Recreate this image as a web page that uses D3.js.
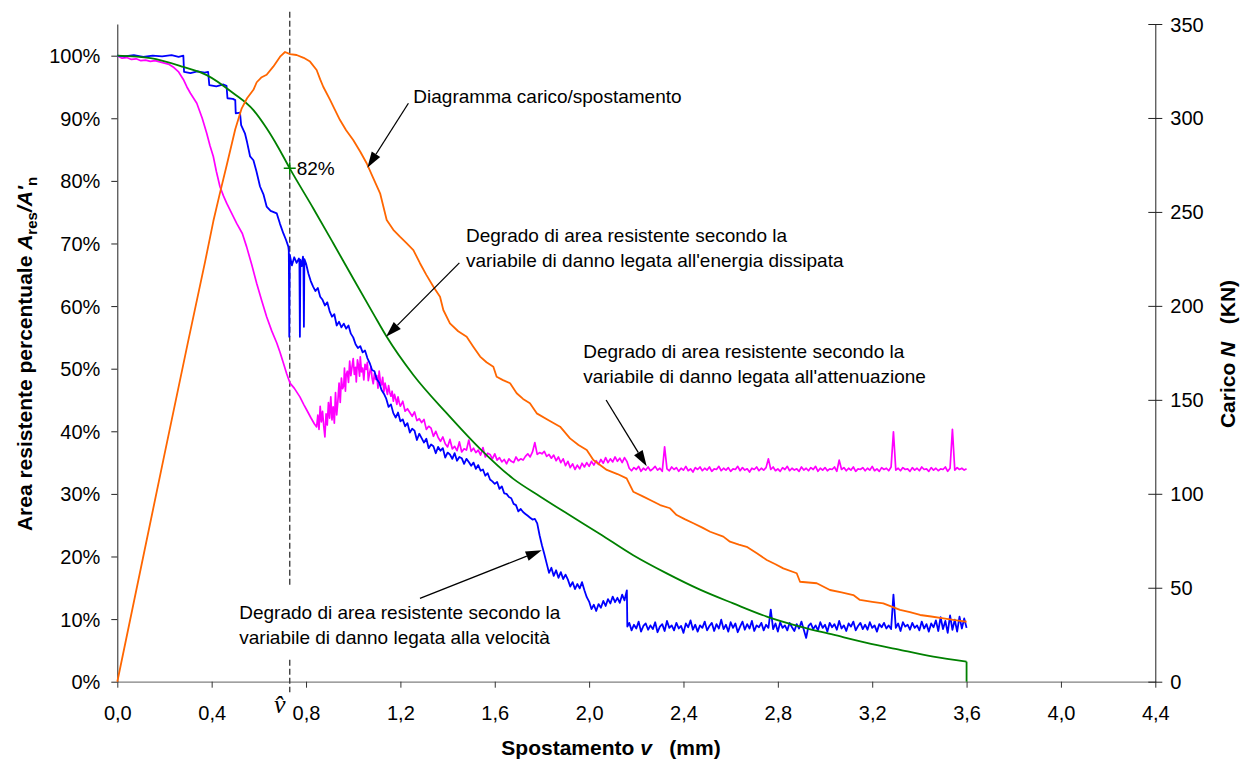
<!DOCTYPE html>
<html><head><meta charset="utf-8">
<script src="https://cdn.jsdelivr.net/npm/d3@7"></script>
<style>
body{margin:0;background:#fff}
svg text{font-family:"Liberation Sans",Arial,sans-serif;fill:#000}
.pre{white-space:pre}
</style></head><body>
<svg id="c" width="1240" height="760"></svg>
<script>
// ---------- DATA ----------
const xTicks = [0,0.4,0.8,1.2,1.6,2.0,2.4,2.8,3.2,3.6,4.0,4.4];
const leftTicks = [0,10,20,30,40,50,60,70,80,90,100];
const rightTicks = [0,50,100,150,200,250,300,350];
const vHat = 0.731;
const vHatValue = 82;

// Load / displacement (kN, right axis)
const loadCurve = [[0,0],[0.1,60.5],[0.2,121],[0.3,181],[0.372,223.4],[0.407,245],[0.435,260],[0.464,275],[0.5,294],[0.527,305],[0.55,310.5],[0.577,315],[0.591,319],[0.61,321.5],[0.633,323],[0.661,327.3],[0.69,332.6],[0.711,335.1],[0.732,334.0],[0.76,333.5],[0.79,332],[0.817,330],[0.845,325.5],[0.86,320.5],[0.873,316.6],[0.902,309.6],[0.92,305],[0.944,298.9],[0.97,293.5],[1.0,288.3],[1.03,282],[1.057,275.9],[1.085,268],[1.114,259.9],[1.142,245.7],[1.17,240.5],[1.198,236.8],[1.225,233.5],[1.255,229.7],[1.283,222.7],[1.31,216.5],[1.34,210.2],[1.368,204.9],[1.382,197.8],[1.41,190.7],[1.445,186.5],[1.481,183.6],[1.509,178.3],[1.538,173.0],[1.565,170],[1.594,167.6],[1.608,162.3],[1.635,160.5],[1.665,158.8],[1.693,153.5],[1.72,150.5],[1.749,148.2],[1.778,142.8],[1.83,139],[1.877,135.7],[1.919,129.5],[1.955,126],[1.99,123.3],[2.018,118.0],[2.045,115.5],[2.075,112.7],[2.12,110.5],[2.159,108.2],[2.187,101.1],[2.23,98.5],[2.265,96.3],[2.301,94.0],[2.343,92.3],[2.371,88.7],[2.405,86.5],[2.442,84.3],[2.48,82],[2.513,79.8],[2.569,77.2],[2.597,74.5],[2.635,73],[2.668,71.8],[2.711,68.3],[2.753,64.8],[2.79,62.5],[2.823,60.3],[2.88,57.7],[2.894,53.2],[2.965,52.4],[3.021,48.8],[3.07,47.5],[3.12,46.1],[3.148,43.5],[3.2,42.5],[3.247,41.7],[3.318,38.2],[3.36,37],[3.403,35.5],[3.45,34.7],[3.502,33.7],[3.55,32.8],[3.6,31.9]];

// Energy-based damage (%, left axis)
const energyCurve = [[0,100],[0.141,99.6],[0.28,98.2],[0.379,96.9],[0.492,94.0],[0.577,91.3],[0.633,88.4],[0.68,85.5],[0.731,82.0],[0.831,75.6],[0.916,70.0],[1.0,64.4],[1.085,58.8],[1.142,55.1],[1.255,49.0],[1.396,42.9],[1.538,37.2],[1.679,32.4],[1.792,29.6],[1.905,26.9],[2.046,23.6],[2.187,20.2],[2.329,17.3],[2.47,14.7],[2.611,12.5],[2.753,10.4],[2.894,8.8],[3.035,7.5],[3.177,6.2],[3.318,5.1],[3.459,4.0],[3.6,3.2],[3.6,0]];

// Velocity-based damage (%, left axis)
const velocityCurve = [[0,100],[0.03,99.9],[0.07,100.1],[0.11,99.8],[0.15,100],[0.19,99.9],[0.23,100.1],[0.26,99.8],[0.28,100],[0.283,97.4],[0.31,97.2],[0.34,97.5],[0.37,97.3],[0.385,97.4],[0.39,95.3],[0.42,95.1],[0.45,95.4],[0.463,95.2],[0.467,93.2],[0.49,93.1],[0.5,92.9],[0.502,90.8],[0.52,90.9],[0.525,88.9],[0.541,87.6],[0.55,86.2],[0.563,83.9],[0.577,83.3],[0.59,81.5],[0.605,79.1],[0.62,77.8],[0.633,75.9],[0.65,75.2],[0.676,74.8],[0.69,73.1],[0.704,71.6],[0.715,70.6],[0.725,69.5],[0.727,68.8],[0.729,55.1],[0.731,68.2],[0.74,66.5],[0.75,67.8],[0.76,66.9],[0.77,67.6],[0.772,67.0],[0.774,55.1],[0.776,67.4],[0.782,66.4],[0.787,67.9],[0.789,67.2],[0.791,56.7],[0.793,67.5],[0.80,66.8],[0.81,65.2],[0.82,64.0],[0.83,63.1],[0.84,62.4],[0.85,62.9],[0.86,61.5],[0.87,61.0],[0.88,60.1],[0.89,60.6],[0.90,59.2],[0.91,58.3],[0.92,58.7],[0.93,56.9],[0.94,57.5],[0.95,56.6],[0.96,57.2],[0.97,56.4],[0.98,56.9],[0.99,55.6],[1.00,55.0],[1.01,53.9],[1.02,53.3],[1.03,53.6],[1.04,52.6],[1.05,52.9],[1.06,51.7],[1.07,50.9],[1.08,49.8],[1.09,49.6],[1.10,48.3],[1.11,47.8],[1.12,46.6],[1.13,46.0],[1.14,45.2],[1.15,43.9],[1.16,44.3],[1.17,42.9],[1.18,42.2],[1.19,43.0],[1.20,41.6],[1.21,41.9],[1.22,40.8],[1.23,41.3],[1.24,39.8],[1.25,40.4],[1.26,40.1],[1.27,38.6],[1.28,39.6],[1.29,38.9],[1.30,38.2],[1.31,38.8],[1.32,37.3],[1.33,37.9],[1.34,37.6],[1.35,36.5],[1.36,37.5],[1.37,36.9],[1.38,37.3],[1.39,35.8],[1.40,36.6],[1.41,36.3],[1.42,35.6],[1.43,36.5],[1.44,35.3],[1.45,35.9],[1.46,35.7],[1.47,34.8],[1.48,35.6],[1.49,35.1],[1.50,34.5],[1.51,35.0],[1.52,34.0],[1.53,34.6],[1.54,33.7],[1.55,33.9],[1.56,32.9],[1.57,33.3],[1.58,32.3],[1.59,32.0],[1.60,31.6],[1.61,31.9],[1.62,30.8],[1.63,31.2],[1.64,30.1],[1.65,30.0],[1.66,29.5],[1.67,29.3],[1.68,28.4],[1.69,28.2],[1.70,27.2],[1.71,27.6],[1.72,27.1],[1.73,26.8],[1.74,26.5],[1.75,26.2],[1.76,25.9],[1.77,26.0],[1.78,25.3],[1.79,23.4],[1.80,21.8],[1.81,20.4],[1.82,18.9],[1.83,17.4],[1.84,18.2],[1.85,16.9],[1.86,17.8],[1.87,16.6],[1.88,17.5],[1.89,16.4],[1.90,17.1],[1.91,16.3],[1.92,15.2],[1.93,15.9],[1.94,14.8],[1.95,15.6],[1.96,14.9],[1.97,15.9],[1.98,14.6],[1.99,13.5],[2.00,12.8],[2.01,11.6],[2.02,12.3],[2.03,11.3],[2.04,12.4],[2.05,11.8],[2.06,12.9],[2.07,12.1],[2.08,13.2],[2.09,12.5],[2.10,13.6],[2.11,12.7],[2.12,13.4],[2.13,12.6],[2.14,13.9],[2.15,13.0],[2.16,14.6],[2.162,8.8]];
const velocityTailStart = 2.17, velocityTailStep = 0.01;
const velocityTail = [
9.4,8.2,9.1,8.5,9.6,8.0,8.9,9.3,8.3,9.0,
8.4,9.5,7.9,8.8,9.2,8.1,9.7,8.6,9.0,8.2,
9.4,8.5,8.9,7.8,9.3,8.7,9.8,8.3,9.1,8.0,
9.0,8.6,9.6,8.2,8.9,9.4,8.1,9.2,8.5,9.9,
8.4,9.1,8.0,9.5,8.6,9.3,7.9,8.8,9.6,8.3,
9.2,8.5,9.7,8.1,9.0,8.7,9.4,8.2,9.1,8.6,
11.5,8.4,9.3,8.0,9.5,8.6,9.0,8.2,9.4,8.7,
8.1,9.2,8.5,9.6,8.3,7.0,8.9,9.3,8.4,9.0,
8.2,9.5,8.6,9.1,8.0,9.4,8.7,9.2,8.3,9.7,
8.5,9.0,8.1,9.3,8.8,9.6,8.2,8.9,9.4,8.4,
9.1,8.3,9.5,8.6,9.0,8.0,9.2,8.7,9.4,8.5,
9.0,8.4,13.9,8.6,9.3,8.1,9.5,8.8,9.1,8.3,
9.4,8.6,9.0,8.2,9.6,8.5,9.2,8.0,9.3,8.7,
9.8,8.1,10.3,8.4,9.7,7.8,10.6,8.3,9.9,8.0,
10.4,8.5,10.1,8.6];

// Attenuation-based damage (%, left axis)
const attenuationCurve = [[0,100],[0.02,99.6],[0.04,99.7],[0.06,99.4],[0.08,99.5],[0.10,99.2],[0.12,99.3],[0.14,99.1],[0.16,99.2],[0.18,99.0],[0.20,98.8],[0.22,98.6],[0.24,98.1],[0.26,97.4],[0.28,96.2],[0.295,95.0],[0.31,94.0],[0.337,92.4],[0.36,90.0],[0.379,87.6],[0.393,85.6],[0.407,83.9],[0.42,81.5],[0.435,79.1],[0.45,77.6],[0.464,76.4],[0.485,74.8],[0.506,73.2],[0.53,71.6],[0.548,69.5],[0.57,66.6],[0.591,63.6],[0.612,60.9],[0.633,58.3],[0.655,56.0],[0.676,54.1],[0.69,52.6],[0.704,50.9],[0.718,49.2],[0.732,47.7],[0.75,46.9],[0.774,45.5],[0.79,44.3],[0.803,43.4],[0.82,42.2],[0.835,41.2],[0.845,40.7],
[0.85,42.6],[0.855,40.3],[0.86,44.0],[0.865,41.5],[0.87,43.2],[0.875,40.9],[0.88,39.1],[0.885,42.8],[0.89,41.0],[0.895,44.6],[0.90,42.1],[0.905,45.5],[0.91,41.8],[0.915,43.9],[0.92,41.3],[0.925,46.2],[0.93,42.6],[0.935,44.8],
[0.94,47.7],[0.945,44.6],[0.95,48.5],[0.955,46.8],[0.96,47.3],[0.963,50.1],[0.967,46.4],[0.97,49.0],[0.975,49.6],[0.98,47.8],[0.985,51.2],[0.99,48.9],[0.995,50.3],[1.0,51.6],[1.005,49.1],[1.01,50.2],[1.013,47.9],[1.018,51.4],[1.022,50.6],[1.027,48.8],[1.03,51.9],[1.035,49.5],[1.04,50.1],[1.045,48.2],[1.05,50.7],[1.055,49.9],[1.06,51.0],[1.064,48.1],[1.07,49.4],[1.075,50.3],[1.08,48.5],[1.085,47.6],[1.09,49.2],[1.095,48.3],[1.10,48.9],[1.105,46.9],[1.11,49.6],[1.115,48.0],[1.12,47.4],[1.125,48.6],[1.13,46.3],[1.135,47.7],[1.14,46.8],[1.145,45.9],[1.15,47.3],[1.155,46.2],[1.16,45.6],[1.165,46.4],[1.17,44.8],[1.175,45.9],[1.18,45.2],[1.185,44.3],[1.19,45.5],[1.195,44.6],[1.20,44.0],
[1.21,44.8],[1.22,43.2],[1.23,43.6],[1.24,43.0],[1.25,42.4],[1.26,43.1],[1.27,41.7],[1.28,42.0],[1.29,41.4],[1.30,41.9],[1.31,40.3],[1.32,40.8],[1.33,40.5],[1.34,39.2],[1.35,40.0],[1.36,39.0],[1.37,38.4],[1.38,39.1],[1.39,38.0],[1.40,37.5],[1.41,38.7],[1.42,37.2],[1.43,37.6],[1.44,36.9],[1.45,38.3],[1.46,36.7],[1.47,37.2],[1.48,37.0],[1.49,38.6],[1.50,36.8],[1.51,37.3],[1.52,36.6],[1.53,37.0],[1.54,36.2],[1.55,37.4],[1.56,35.9],[1.57,36.5],[1.58,36.3],[1.59,35.6],[1.60,36.4],[1.61,35.4],[1.62,35.8],[1.63,35.1],[1.64,35.5],[1.65,34.8],[1.66,35.6],[1.67,35.2],[1.68,35.0],[1.69,35.9],[1.70,35.3],[1.71,35.6],[1.72,35.4],[1.73,36.0],[1.74,36.4],[1.75,35.9],[1.76,36.7],[1.77,38.2],[1.78,36.3],[1.79,36.6],[1.80,36.4],[1.81,36.8],[1.82,36.0],[1.83,36.3],[1.84,35.7],[1.85,36.2],[1.86,35.3],[1.87,35.9],[1.88,35.0],[1.89,35.6],[1.90,34.5],[1.91,35.2],[1.92,34.2],[1.93,34.8],[1.94,33.9],[1.95,34.6],[1.96,34.0],[1.97,34.9],[1.98,34.3],[1.99,35.0],[2.00,34.4],[2.01,35.2],[2.02,34.6],[2.03,35.3],[2.04,34.7],[2.05,35.5],[2.06,34.9],[2.07,35.8],[2.08,35.0],[2.09,35.6],[2.10,35.1],[2.11,35.9],[2.12,35.2],[2.13,35.7],[2.14,35.0],[2.15,35.8],[2.16,35.2],[2.17,34.1]];
const attenuationTailStart = 2.18, attenuationTailStep = 0.01;
const attenuationTail = [
33.7,34.2,33.9,34.4,33.6,34.1,33.8,34.3,33.7,34.0,
34.4,33.8,34.1,33.6,37.5,34.0,33.7,34.3,33.9,34.2,
33.6,34.1,33.8,34.4,33.7,34.0,33.5,34.2,33.9,34.3,
33.7,34.1,33.8,34.3,33.6,34.0,33.9,34.4,33.7,34.1,
33.8,34.2,33.6,34.0,33.9,34.4,33.7,34.2,33.8,34.0,
33.5,34.1,33.9,34.3,33.7,34.1,33.8,34.2,35.6,33.9,
34.3,33.7,34.0,33.6,34.2,33.9,34.4,33.7,34.1,33.8,
34.0,33.6,34.3,33.8,34.1,33.7,34.2,33.9,34.4,33.6,
34.1,33.8,34.2,33.7,34.0,33.9,34.3,33.6,35.4,33.9,
34.2,33.7,34.1,33.8,34.3,33.6,34.0,33.9,34.2,33.7,
34.1,33.8,34.4,33.7,34.0,33.6,34.2,33.9,34.1,33.7,
34.3,39.9,33.8,34.1,33.7,34.2,33.9,34.0,33.6,34.2,
33.8,34.1,33.7,34.3,33.9,34.0,33.6,34.2,33.8,34.1,
33.7,34.0,33.9,34.3,33.6,34.1,40.3,33.8,34.2,33.9,
34.1,33.8,34.0];

// Annotations (positions in data units: displacement, % of left axis)
const notes = [
  {lines:["Diagramma carico/spostamento"], at:[1.255,92.4], from:[1.234,92.4], to:[1.06,82.1]},
  {lines:["Degrado di area resistente secondo la","variabile di danno legata all'energia dissipata"], at:[1.478,70.2], from:[1.45,66.9], to:[1.139,55.1]},
  {lines:["Degrado di area resistente secondo la","variabile di danno legata all'attenuazione"], at:[1.975,51.7], from:[2.072,45.0], to:[2.244,34.4]},
  {lines:["Degrado di area resistente secondo la","variabile di danno legata alla velocità"], at:[0.517,10.0], from:[1.283,13.3], to:[1.799,21.0]}
];

// ---------- CHART ----------
const svg = d3.select("#c");
svg.append("rect").attr("width",1240).attr("height",760).attr("fill","#fff");

const x = d3.scaleLinear().domain([0,4.4]).range([117.3,1155.3]);
const yL = d3.scaleLinear().domain([0,105.06]).range([681.7,24]);
const yR = d3.scaleLinear().domain([0,350]).range([681.7,24]);

function withTail(curve, start, step, tail){
  return curve.concat(tail.map((v,i)=>[+(start+i*step).toFixed(3), v]));
}
const velocity = withTail(velocityCurve, velocityTailStart, velocityTailStep, velocityTail);
const attenuation = withTail(attenuationCurve, attenuationTailStart, attenuationTailStep, attenuationTail);

const FONT = "Liberation Sans, Arial, sans-serif";

// Axes
const gx = svg.append("g").attr("transform",`translate(0,${yL(0)})`)
  .call(d3.axisBottom(x).tickValues(xTicks).tickSize(6).tickSizeOuter(0)
    .tickFormat(d=>d.toFixed(1).replace(".",",")));
gx.select(".domain").attr("stroke","#808080").attr("stroke-width",1.3);
gx.selectAll(".tick line").attr("stroke","#333");
gx.selectAll(".tick text").attr("y",38.5).attr("dy",0).attr("font-size",20)
  .style("font-family",FONT).attr("fill","#000");

const gl = svg.append("g").attr("transform",`translate(${x(0)},0)`)
  .call(d3.axisLeft(yL).tickValues(leftTicks).tickSize(6).tickSizeOuter(0).tickPadding(11)
    .tickFormat(d=>d+"%"));
gl.select(".domain").attr("stroke","#222");
gl.selectAll(".tick line").attr("stroke","#222");
gl.selectAll(".tick text").attr("font-size",20).attr("dy","0.35em")
  .style("font-family",FONT).attr("fill","#000");

const gr = svg.append("g").attr("transform",`translate(${x(4.4)},0)`)
  .call(d3.axisRight(yR).tickValues(rightTicks).tickSize(7).tickSizeOuter(0).tickPadding(8));
gr.select(".domain").attr("stroke","#222");
gr.selectAll(".tick line").attr("stroke","#222").attr("x1",-7).attr("x2",7);
gr.selectAll(".tick text").attr("font-size",20).attr("dy","0.35em")
  .style("font-family",FONT).attr("fill","#000");

// Dashed v-hat line
const dash = svg.append("g").attr("stroke","#333").attr("stroke-width",1.3).attr("stroke-dasharray","6,3");
dash.append("line").attr("x1",x(vHat)).attr("x2",x(vHat)).attr("y1",yL(107)).attr("y2",yL(15.5));
dash.append("line").attr("x1",x(vHat)).attr("x2",x(vHat)).attr("y1",yL(3.5)).attr("y2",yL(-1.7));

// Series
const lineL = d3.line().x(d=>x(d[0])).y(d=>yL(d[1]));
const lineR = d3.line().x(d=>x(d[0])).y(d=>yR(d[1]));
const smoothL = d3.line().x(d=>x(d[0])).y(d=>yL(d[1])).curve(d3.curveMonotoneX);

svg.append("path").datum(attenuation).attr("d",lineL).attr("fill","none")
  .attr("stroke","#FF00FF").attr("stroke-width",1.7).attr("stroke-linejoin","round");
svg.append("path").datum(velocity).attr("d",lineL).attr("fill","none")
  .attr("stroke","#0000FF").attr("stroke-width",1.8).attr("stroke-linejoin","round");
svg.append("path").datum(energyCurve.slice(0,-1)).attr("d",smoothL).attr("fill","none")
  .attr("stroke","#008000").attr("stroke-width",1.8);
svg.append("path").datum(energyCurve.slice(-2)).attr("d",lineL).attr("fill","none")
  .attr("stroke","#008000").attr("stroke-width",1.8);
svg.append("path").datum(loadCurve).attr("d",lineR).attr("fill","none")
  .attr("stroke","#FF6600").attr("stroke-width",1.8).attr("stroke-linejoin","round");

// 82% marker
const mx = x(vHat), my = yL(vHatValue);
svg.append("path").attr("d",`M${mx-6},${my}H${mx+6}M${mx},${my-6}V${my+6}`)
  .attr("stroke","#008000").attr("stroke-width",1.5).attr("fill","none");
svg.append("text").attr("x",mx+7).attr("y",my+7).attr("font-size",19).text(vHatValue+"%");

// v-hat label
svg.append("text").attr("x",x(vHat)-10).attr("y",713).attr("text-anchor","middle")
  .style("font-family","Liberation Serif, Times New Roman, serif").style("font-style","italic")
  .attr("font-size",26).text("v\u0302");

// Annotations
notes.forEach(n=>{
  const t = svg.append("text").attr("font-size",19);
  n.lines.forEach((s,i)=>{
    t.append("tspan").attr("x",x(n.at[0])).attr("y",yL(n.at[1])+i*25).text(s);
  });
  const x1=x(n.from[0]), y1=yL(n.from[1]), x2=x(n.to[0]), y2=yL(n.to[1]);
  const ang=Math.atan2(y2-y1,x2-x1), L=16, W=5;
  const bx=x2-L*Math.cos(ang), by=y2-L*Math.sin(ang);
  svg.append("line").attr("x1",x1).attr("y1",y1).attr("x2",bx).attr("y2",by)
    .attr("stroke","#000").attr("stroke-width",1.3);
  svg.append("polygon").attr("points",
    [[x2,y2],[bx+W*Math.sin(ang),by-W*Math.cos(ang)],[bx-W*Math.sin(ang),by+W*Math.cos(ang)]].map(p=>p.join(",")).join(" "))
    .attr("fill","#000");
});

// Axis titles
const tl = svg.append("text").attr("transform","translate(32,354) rotate(-90)")
  .attr("text-anchor","middle").attr("font-size",21).attr("font-weight","bold");
tl.append("tspan").text("Area resistente percentuale ");
tl.append("tspan").attr("font-style","italic").text("A");
tl.append("tspan").attr("font-size",15).attr("dy",5).text("res");
tl.append("tspan").attr("font-style","italic").attr("dy",-5).text("/A'");
tl.append("tspan").attr("font-size",15).attr("dy",5).text("n");

const tb = svg.append("text").attr("x",611).attr("y",755).attr("text-anchor","middle")
  .attr("font-size",21).attr("font-weight","bold").attr("class","pre");
tb.append("tspan").text("Spostamento ");
tb.append("tspan").attr("font-style","italic").text("v");
tb.append("tspan").text("   (mm)");

const tr = svg.append("text").attr("transform","translate(1235,354) rotate(-90)")
  .attr("text-anchor","middle").attr("font-size",21).attr("font-weight","bold").attr("class","pre");
tr.append("tspan").text("Carico ");
tr.append("tspan").attr("font-style","italic").text("N");
tr.append("tspan").text("   (KN)");
</script></body></html>
